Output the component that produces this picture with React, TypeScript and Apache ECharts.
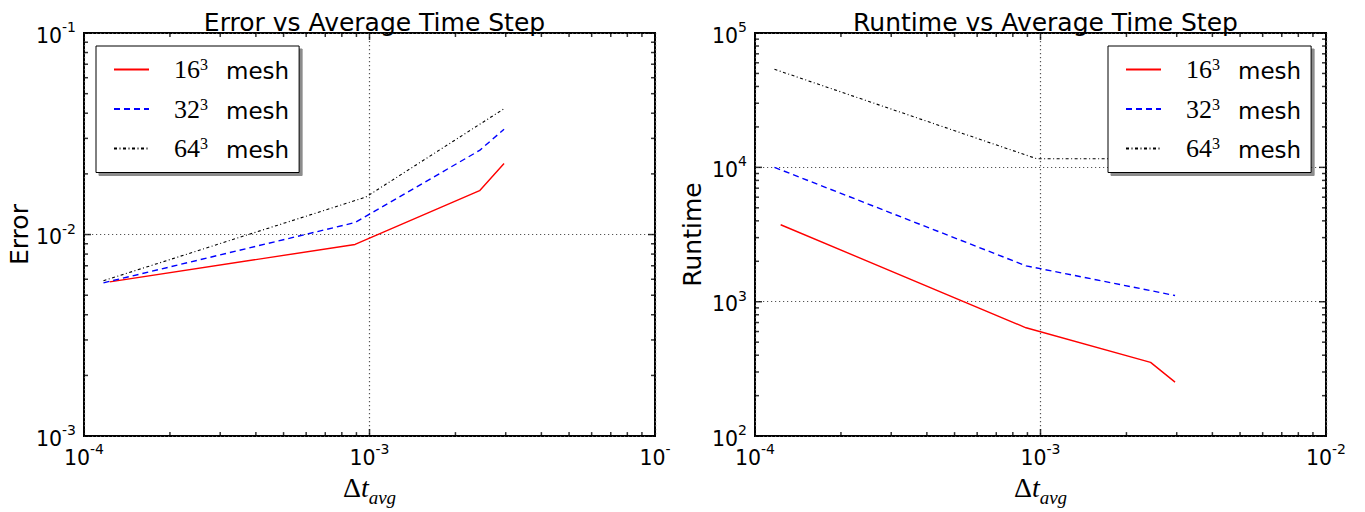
import React, { useEffect, useRef } from 'react';
import * as echarts from 'echarts';

// ---- data ----
const meshNames = ['16³ mesh', '32³ mesh', '64³ mesh'];
const meshColors = ['#ff0000', '#0000ff', '#000000'];

const dt16 = [1.23e-4, 8.9e-4, 2.43e-3, 2.96e-3];
const dt32 = [1.17e-4, 8.9e-4, 2.43e-3, 2.96e-3];
const dt64 = [1.17e-4, 9.7e-4, 2.96e-3];

const error16 = [5.82e-3, 8.93e-3, 1.65e-2, 2.25e-2];
const error32 = [5.76e-3, 1.147e-2, 2.615e-2, 3.33e-2];
const error64 = [5.9e-3, 1.533e-2, 4.21e-2];

const runtime16 = [3740, 640, 354, 252];
const runtime32 = [10000, 1850, 1210, 1112];
const runtime64 = [53700, 11600, 11600];

// tick label exponents (left x axis last label is truncated in the original)
const leftXTickExp = ['-4', '-3', '-'];
const leftYTickExp = ['-3', '-2', '-1'];
const rightXTickExp = ['-4', '-3', '-2'];
const rightYTickExp = ['2', '3', '4', '5'];
const minorMultipliers = [2, 3, 4, 5, 6, 7, 8, 9];

const zip = (xs: number[], ys: number[]) => xs.map((x, i) => [x, ys[i]]);

const SANS = 'DejaVu Sans';
const SERIF = 'Liberation Serif';

const labelRich = {
  b: { fontFamily: SANS, fontSize: 20.5, lineHeight: 26, verticalAlign: 'bottom', color: '#000' },
  s: { fontFamily: SANS, fontSize: 14, lineHeight: 14, verticalAlign: 'top', color: '#000' },
};

function tickFormatter(exps: string[], minExp: number) {
  return (v: number) => {
    const idx = Math.round(Math.log10(v)) - minExp;
    return '{b|10}{s|' + (exps[idx] ?? '') + '}';
  };
}

function buildTicks(minXE: number, maxXE: number, minYE: number, maxYE: number, gi: number) {
  const xMin = Math.pow(10, minXE), xMax = Math.pow(10, maxXE);
  const yMin = Math.pow(10, minYE), yMax = Math.pow(10, maxYE);
  const majorLen = 7, minorLen = 4;
  const series: any[] = [];
  const mk = (data: number[][], size: number[], offset: number[]) => ({
    type: 'scatter', name: 'ticks' + gi, xAxisIndex: gi, yAxisIndex: gi, silent: true,
    symbol: 'rect', symbolSize: size, symbolOffset: offset, clip: false, z: 5,
    itemStyle: { color: '#000' }, data,
  });
  const xMajor: number[] = [], xMinor: number[] = [];
  for (let e = minXE; e <= maxXE; e++) {
    xMajor.push(Math.pow(10, e));
    if (e < maxXE) minorMultipliers.forEach(m => xMinor.push(m * Math.pow(10, e)));
  }
  const yMajor: number[] = [], yMinor: number[] = [];
  for (let e = minYE; e <= maxYE; e++) {
    yMajor.push(Math.pow(10, e));
    if (e < maxYE) minorMultipliers.forEach(m => yMinor.push(m * Math.pow(10, e)));
  }
  series.push(mk(xMajor.map(x => [x, yMin]), [1.5, majorLen], [0, -majorLen / 2]));
  series.push(mk(xMajor.map(x => [x, yMax]), [1.5, majorLen], [0, majorLen / 2]));
  series.push(mk(xMinor.map(x => [x, yMin]), [1.5, minorLen], [0, -minorLen / 2]));
  series.push(mk(xMinor.map(x => [x, yMax]), [1.5, minorLen], [0, minorLen / 2]));
  series.push(mk(yMajor.map(y => [xMin, y]), [majorLen, 1.5], [majorLen / 2, 0]));
  series.push(mk(yMajor.map(y => [xMax, y]), [majorLen, 1.5], [-majorLen / 2, 0]));
  series.push(mk(yMinor.map(y => [xMin, y]), [minorLen, 1.5], [minorLen / 2, 0]));
  series.push(mk(yMinor.map(y => [xMax, y]), [minorLen, 1.5], [-minorLen / 2, 0]));
  return series;
}

const lineTypes: any[] = ['solid', [6, 4], [3, 2.5, 1, 2.5]];
const lineWidths = [1.4, 1.4, 1.1];

function lineSeries(gi: number, xs: number[][], ys: number[][]) {
  return meshNames.map((name, i) => ({
    type: 'line', name, xAxisIndex: gi, yAxisIndex: gi, symbol: 'none', z: 3,
    data: zip(xs[i], ys[i]),
    lineStyle: { color: meshColors[i], width: lineWidths[i], type: lineTypes[i] },
    itemStyle: { color: meshColors[i] },
  }));
}

const splitLine = { show: true, lineStyle: { color: '#555', type: [1.2, 2.8], width: 1.2 } };

const axisLabelBase = {
  rich: labelRich, showMinLabel: true, showMaxLabel: true, hideOverlap: false,
  fontFamily: SANS, fontSize: 20.5, color: '#000',
};

function xAxis(gi: number, exps: string[]) {
  return {
    type: 'log', logBase: 10, gridIndex: gi, min: 1e-4, max: 1e-2,
    axisLine: { show: false }, axisTick: { show: false },
    splitLine,
    axisLabel: { ...axisLabelBase, formatter: tickFormatter(exps, -4), margin: 6 },
    name: '{d|Δ}{t|t}{a|avg}', nameLocation: 'middle', nameGap: 31,
    nameTextStyle: {
      rich: {
        d: { fontFamily: SERIF, fontSize: 28, lineHeight: 30, verticalAlign: 'top', color: '#000' },
        t: { fontFamily: SERIF, fontStyle: 'italic', fontSize: 28, lineHeight: 30, verticalAlign: 'top', color: '#000' },
        a: { fontFamily: SERIF, fontStyle: 'italic', fontSize: 19, lineHeight: 18, verticalAlign: 'bottom', color: '#000', padding: [0, 0, -4, 0] },
      },
    },
  };
}

function yAxis(gi: number, exps: string[], minE: number, maxE: number, name: string) {
  return {
    type: 'log', logBase: 10, gridIndex: gi, min: Math.pow(10, minE), max: Math.pow(10, maxE),
    axisLine: { show: false }, axisTick: { show: false },
    splitLine,
    axisLabel: { ...axisLabelBase, formatter: tickFormatter(exps, minE), margin: 8 },
    name, nameLocation: 'middle', nameGap: 50,
    nameTextStyle: { fontFamily: SANS, fontSize: 25, color: '#000' },
  };
}

const legendRich = {
  n: { fontFamily: SERIF, fontSize: 26, lineHeight: 26, verticalAlign: 'bottom', color: '#000', padding: [0, 0, 0, 20] },
  s: { fontFamily: SERIF, fontSize: 16, lineHeight: 15, verticalAlign: 'top', color: '#000' },
  m: { fontFamily: SANS, fontSize: 23, lineHeight: 26, verticalAlign: 'bottom', color: '#000', padding: [0, 0, 0, 18] },
};

function legend(left: number) {
  return {
    data: meshNames.map((name, i) => ({
      name,
      itemStyle: { color: 'rgba(0,0,0,0)', borderColor: 'rgba(0,0,0,0)', borderWidth: 0, opacity: 0 },
      lineStyle: { color: meshColors[i], type: lineTypes[i], width: 2 },
    })),
    left, top: 46, orient: 'vertical', itemWidth: 35, itemHeight: 14, itemGap: 13.5,
    padding: [10.5, 10, 11, 17], backgroundColor: '#fff', borderColor: '#000', borderWidth: 1, borderRadius: 0,
    shadowColor: 'rgba(0,0,0,0.45)', shadowOffsetX: 3, shadowOffsetY: 3, shadowBlur: 1,
    selectedMode: false,
    itemStyle: { color: 'rgba(0,0,0,0)', borderColor: 'rgba(0,0,0,0)', borderWidth: 0 },
    formatter: (name: string) => '{n|' + name.split('³')[0] + '}{s|3}{m|mesh}',
    textStyle: { rich: legendRich },
  };
}

export default function App() {
  const ref = useRef<HTMLDivElement>(null);
  useEffect(() => {
    if (!ref.current) return;
    const chart = echarts.init(ref.current, undefined, { renderer: 'svg' });
    chart.setOption({
      animation: false,
      backgroundColor: '#fff',
      title: [
        { text: 'Error vs Average Time Step', left: 369.5, top: 5, textAlign: 'center', textStyle: { fontFamily: SANS, fontSize: 25, fontWeight: 'normal', color: '#000' } },
        { text: 'Runtime vs Average Time Step', left: 1040.5, top: 5, textAlign: 'center', textStyle: { fontFamily: SANS, fontSize: 25, fontWeight: 'normal', color: '#000' } },
      ],
      grid: [
        { left: 84, right: 710, top: 33, bottom: 64, show: true, borderColor: '#000', borderWidth: 2, backgroundColor: 'transparent' },
        { left: 755, right: 39, top: 33, bottom: 64, show: true, borderColor: '#000', borderWidth: 2, backgroundColor: 'transparent' },
      ],
      xAxis: [xAxis(0, leftXTickExp), xAxis(1, rightXTickExp)],
      yAxis: [yAxis(0, leftYTickExp, -3, -1, 'Error'), yAxis(1, rightYTickExp, 2, 5, 'Runtime')],
      legend: [legend(96), legend(1108)],
      series: [
        ...lineSeries(0, [dt16, dt32, dt64], [error16, error32, error64]),
        ...lineSeries(1, [dt16, dt32, dt64], [runtime16, runtime32, runtime64]),
        ...buildTicks(-4, -2, -3, -1, 0),
        ...buildTicks(-4, -2, 2, 5, 1),
      ],
    });
    return () => chart.dispose();
  }, []);
  return <div ref={ref} style={{ position: 'fixed', left: 0, top: 0, width: 1365, height: 512, background: '#fff' }} />;
}
